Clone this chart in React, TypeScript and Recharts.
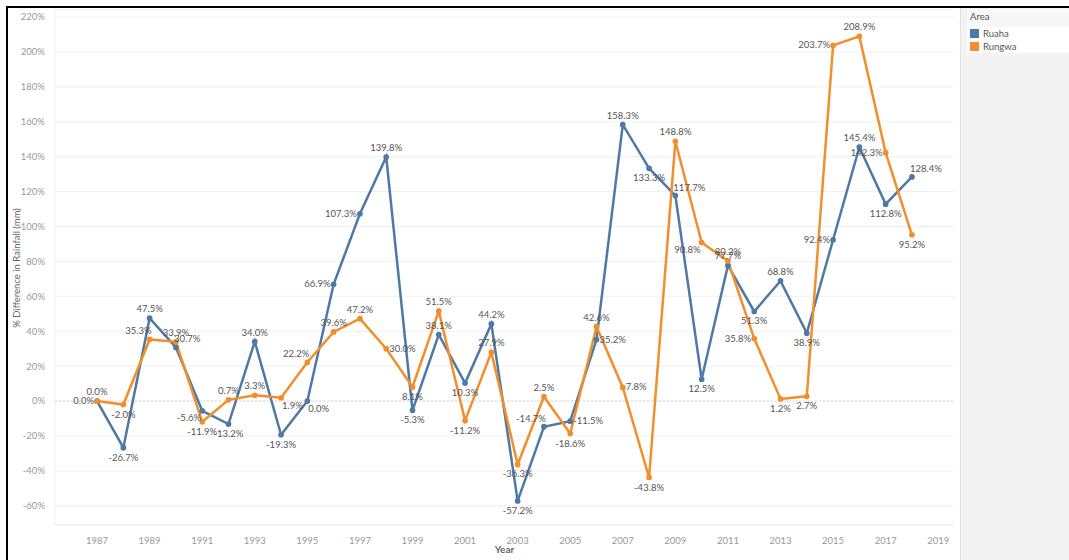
import React from "react";
import {
  CartesianGrid,
  LabelList,
  Line,
  LineChart,
  ReferenceLine,
  XAxis,
  YAxis,
} from "recharts";

const years = [
  1987, 1988, 1989, 1990, 1991, 1992, 1993, 1994, 1995, 1996, 1997, 1998,
  1999, 2000, 2001, 2002, 2003, 2004, 2005, 2006, 2007, 2008, 2009, 2010,
  2011, 2012, 2013, 2014, 2015, 2016, 2017, 2018,
];

const ruaha = [
  0.0, -26.7, 47.5, 30.7, -5.6, -13.2, 34.0, -19.3, 0.0, 66.9, 107.3, 139.8,
  -5.3, 38.1, 10.3, 44.2, -57.2, -14.7, -11.5, 35.2, 158.3, 133.3, 117.7, 12.5,
  77.7, 51.3, 68.8, 38.9, 92.4, 145.4, 112.8, 128.4,
];

const rungwa = [
  0.0, -2.0, 35.3, 33.9, -11.9, 0.7, 3.3, 1.9, 22.2, 39.6, 47.2, 30.0, 8.1,
  51.5, -11.2, 27.9, -36.3, 2.5, -18.6, 42.6, 7.8, -43.8, 148.8, 90.8, 80.2,
  35.8, 1.2, 2.7, 203.7, 208.9, 142.3, 95.2,
];

const yTicks = [-60, -40, -20, 0, 20, 40, 60, 80, 100, 120, 140, 160, 180, 200, 220];
const xTicks = [1987, 1989, 1991, 1993, 1995, 1997, 1999, 2001, 2003, 2005, 2007, 2009, 2011, 2013, 2015, 2017, 2019];

// where a label sits when it is not simply above/below its point
const ruahaPlace: Record<number, string> = {
  1987: "left", 1990: "tr", 1991: "bl", 1995: "br", 1996: "left", 1997: "left",
  2004: "tl", 2005: "right", 2006: "right", 2009: "tr", 2015: "left", 2018: "tr",
};
const rungwaPlace: Record<number, string> = {
  1989: "tl", 1994: "br", 1995: "tl", 1998: "right", 2007: "right",
  2010: "bl", 2012: "left", 2015: "left", 2017: "left",
};

const BLUE = "#4e79a7";
const ORANGE = "#f28e2b";
const FONT = "Lato, 'Open Sans', sans-serif";

const data = years.map((y, i) => ({ year: y, ruaha: ruaha[i], rungwa: rungwa[i] }));

function makeLabel(values: number[], place: Record<number, string>) {
  return (props: any) => {
    const { x, y, index, value } = props;
    const prev = index > 0 ? values[index - 1] : values[index + 1];
    const next = index < values.length - 1 ? values[index + 1] : values[index - 1];
    const p = place[years[index]] || (value >= (prev + next) / 2 ? "top" : "bottom");
    let tx = x;
    let ty = y;
    let anchor = "middle";
    if (p === "top") ty = y - 6;
    else if (p === "bottom") ty = y + 13;
    else if (p === "left") { tx = x - 3; ty = y + 3; anchor = "end"; }
    else if (p === "right") { tx = x + 3; ty = y + 3; anchor = "start"; }
    else if (p === "tl") { tx = x + 2; ty = y - 5; anchor = "end"; }
    else if (p === "tr") { tx = x - 2; ty = y - 5; anchor = "start"; }
    else if (p === "bl") { tx = x - 1; ty = y + 10; anchor = "end"; }
    else if (p === "br") { tx = x + 1; ty = y + 11; anchor = "start"; }
    return (
      <text x={tx} y={ty} textAnchor={anchor} fontSize={9.5} fontFamily={FONT} fill="#555">
        {value.toFixed(1)}%
      </text>
    );
  };
}

export default function App() {
  return (
    <div
      style={{
        position: "absolute",
        left: 0,
        top: 0,
        width: 1069,
        height: 560,
        background: "#fff",
        overflow: "hidden",
        fontFamily: FONT,
      }}
    >
      <div
        style={{
          position: "absolute",
          left: 6,
          top: 6,
          width: 1069,
          height: 560,
          borderTop: "2px solid #000",
          borderLeft: "2px solid #000",
        }}
      />
      <div style={{ position: "absolute", left: 0, top: 0 }}>
        <LineChart
          width={956}
          height={560}
          data={data}
          margin={{ top: 10, right: 2, bottom: 5, left: 8 }}
        >
          <CartesianGrid vertical={false} stroke="#f0f0f0" />
          <XAxis
            dataKey="year"
            type="number"
            domain={[1985.4, 2019.6]}
            ticks={xTicks}
            interval={0}
            height={30}
            tickLine={false}
            axisLine={{ stroke: "#eee" }}
            tick={{ fontSize: 9.5, fill: "#999", fontFamily: FONT }}
            tickMargin={6}
            label={{
              value: "Year",
              position: "insideBottom",
              offset: 2,
              style: { fontSize: 10, fontWeight: 700, fill: "#666", fontFamily: FONT },
            }}
          />
          <YAxis
            type="number"
            domain={[-71, 224]}
            ticks={yTicks}
            interval={0}
            width={47}
            tickLine={false}
            axisLine={{ stroke: "#eee" }}
            tick={{ fontSize: 9.5, fill: "#999", fontFamily: FONT }}
            tickFormatter={(v: number) => `${v}%`}
            tickMargin={4}
            label={{
              content: () => (
                <text
                  x={20}
                  y={268}
                  transform="rotate(-90, 20, 268)"
                  textAnchor="middle"
                  fontSize={9.5}
                  fill="#666"
                  fontFamily={FONT}
                >
                  % Difference in Rainfall (mm)
                </text>
              ),
            }}
          />
          <ReferenceLine y={0} stroke="#ddd" strokeDasharray="2 2" />
          <Line
            dataKey="ruaha"
            stroke={BLUE}
            strokeWidth={2.5}
            dot={{ r: 1.6, fill: BLUE, stroke: BLUE }}
            isAnimationActive={false}
          >
            <LabelList dataKey="ruaha" content={makeLabel(ruaha, ruahaPlace)} />
          </Line>
          <Line
            dataKey="rungwa"
            stroke={ORANGE}
            strokeWidth={2.5}
            dot={{ r: 1.6, fill: ORANGE, stroke: ORANGE }}
            isAnimationActive={false}
          >
            <LabelList dataKey="rungwa" content={makeLabel(rungwa, rungwaPlace)} />
          </Line>
        </LineChart>
      </div>
      <div
        style={{
          position: "absolute",
          left: 960,
          top: 8,
          width: 109,
          height: 552,
          background: "#f3f3f3",
          borderLeft: "1px solid #e2e2e2",
        }}
      >
        <div
          style={{
            position: "absolute",
            left: 6,
            top: 1,
            width: 103,
            height: 44,
            background: "#fff",
            fontSize: 9.5,
            color: "#555",
          }}
        >
          <div style={{ padding: "2px 3px", background: "#f7f7f7", height: 14 }}>Area</div>
          {[
            { name: "Ruaha", color: BLUE },
            { name: "Rungwa", color: ORANGE },
          ].map((d) => (
            <div key={d.name} style={{ display: "flex", alignItems: "center", height: 13, paddingLeft: 3 }}>
              <span style={{ width: 9, height: 9, background: d.color, marginRight: 4, display: "inline-block" }} />
              {d.name}
            </div>
          ))}
        </div>
      </div>
    </div>
  );
}
